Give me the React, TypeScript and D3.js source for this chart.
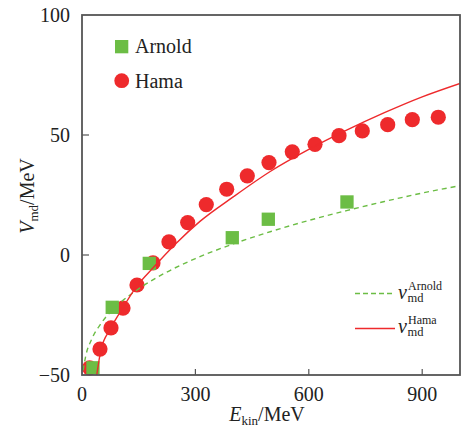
import React from "react";
import * as d3 from "d3";

const hamaE = [20, 47.6, 76.7, 108.5, 145.5, 187.8, 230, 279.6, 328.8, 382.8, 437.3, 494.7, 556.3, 616.4, 679.9, 741.5, 808.7, 873.8, 942.6];
const hamaV = [-47, -39.2, -30.4, -22.1, -12.5, -3.3, 5.5, 13.5, 21.0, 27.4, 33.0, 38.5, 43.0, 46.1, 49.7, 51.7, 54.3, 56.4, 57.4];

const arnoldE = [29, 80, 178, 397.6, 492.9, 701];
const arnoldV = [-47, -21.8, -3.5, 7.2, 14.9, 22.1];

const hamaCurveE = [39, 50, 75, 110, 145, 190, 250, 312, 400, 500, 600, 700, 800, 900, 1000];
const hamaCurveV = [-50, -39.6, -30.8, -21.5, -13, -5, 5, 14, 24.2, 35, 44, 52, 59.3, 65.9, 71.5];

const arnoldCurveE = [3, 10, 25, 50, 100, 150, 200, 300, 400, 500, 600, 700, 800, 900, 1000];
const arnoldCurveV = [-48.1, -42.0, -35.3, -28.6, -20.1, -14.1, -9.2, -1.5, 4.6, 9.8, 14.4, 18.5, 22.3, 25.8, 28.9];

const xTicks = [0, 300, 600, 900];
const yTicks = [-50, 0, 50, 100];

const RED = "#ee2a2c";
const GREEN = "#6cbd45";
const AXIS = "#555555";
const FONT = "Liberation Serif, DejaVu Serif, serif";

export default function App() {
  const x = d3.scaleLinear().domain([0, 1000]).range([82, 460]);
  const y = d3.scaleLinear().domain([-50, 100]).range([375, 15]);

  const line = d3
    .line<[number, number]>()
    .x((d) => x(d[0]))
    .y((d) => y(d[1]))
    .curve(d3.curveMonotoneX);

  const hamaPath = line(hamaCurveE.map((e, i) => [e, hamaCurveV[i]]) as [number, number][]) || "";
  const arnoldPath = line(arnoldCurveE.map((e, i) => [e, arnoldCurveV[i]]) as [number, number][]) || "";

  const sq = 13.3;
  const r = 7.6;
  const ts = { fontFamily: FONT };

  return (
    <svg
      width={462}
      height={430}
      style={{ position: "absolute", left: 0, top: 0, background: "#fff", fontFamily: FONT }}
    >
      <defs>
        <clipPath id="plotclip">
          <rect x={82} y={15} width={378} height={360} />
        </clipPath>
      </defs>

      {/* markers */}
      <g>
        {hamaE.map((e, i) => (
          <circle key={"h" + i} cx={x(e)} cy={y(hamaV[i])} r={r} fill={RED} />
        ))}
        {arnoldE.map((e, i) => (
          <rect
            key={"a" + i}
            x={x(e) - sq / 2}
            y={y(arnoldV[i]) - sq / 2}
            width={sq}
            height={sq}
            fill={GREEN}
          />
        ))}
      </g>

      {/* curves */}
      <g clipPath="url(#plotclip)">
        <path d={arnoldPath} fill="none" stroke={GREEN} strokeWidth={1.4} strokeDasharray="5,4" />
        <path d={hamaPath} fill="none" stroke={RED} strokeWidth={1.4} />
      </g>

      {/* frame */}
      <rect x={82} y={15} width={378} height={360} fill="none" stroke={AXIS} strokeWidth={1.8} />

      {/* ticks */}
      {xTicks.map((t) => (
        <g key={"xt" + t}>
          {t > 0 && <line x1={x(t)} x2={x(t)} y1={375} y2={369} stroke={AXIS} strokeWidth={1.2} />}
          <text x={x(t)} y={401} textAnchor="middle" fontSize={20} fill="#222" style={ts}>
            {t}
          </text>
        </g>
      ))}
      {yTicks.map((t) => (
        <g key={"yt" + t}>
          {t > -50 && t < 100 && <line x1={82} x2={89} y1={y(t)} y2={y(t)} stroke={AXIS} strokeWidth={1.2} />}
          <text x={70} y={y(t) + 7} textAnchor="end" fontSize={20} fill="#222" style={ts}>
            {t < 0 ? "\u2212" + Math.abs(t) : t}
          </text>
        </g>
      ))}

      {/* axis labels */}
      <text x={267} y={421} textAnchor="middle" fontSize={20} fill="#222" style={ts}>
        <tspan fontStyle="italic">E</tspan>
        <tspan fontSize={13} dy={4}>kin</tspan>
        <tspan dy={-4}>/MeV</tspan>
      </text>
      <text transform="translate(34,196) rotate(-90)" textAnchor="middle" fontSize={20} fill="#222" style={ts}>
        <tspan fontStyle="italic">V</tspan>
        <tspan fontSize={13} dy={4}>md</tspan>
        <tspan dy={-4}>/MeV</tspan>
      </text>

      {/* marker legend */}
      <rect x={115} y={40} width={sq} height={sq} fill={GREEN} />
      <text x={135} y={53} fontSize={20} fill="#222" style={ts}>Arnold</text>
      <circle cx={121.7} cy={80.7} r={7.4} fill={RED} />
      <text x={135} y={87.5} fontSize={20} fill="#222" style={ts}>Hama</text>

      {/* line legend */}
      <line x1={355} x2={395} y1={293.5} y2={293.5} stroke={GREEN} strokeWidth={1.4} strokeDasharray="5,3" />
      <text x={398} y={298.5} fontSize={20} fill="#222" style={ts}>
        <tspan fontStyle="italic">v</tspan>
        <tspan x={408} dy={-9} fontSize={12}>Arnold</tspan>
        <tspan x={407.5} dy={12.5} fontSize={12.5}>md</tspan>
      </text>

      <line x1={355} x2={395} y1={328.5} y2={328.5} stroke={RED} strokeWidth={1.4} />
      <text x={398} y={333} fontSize={20} fill="#222" style={ts}>
        <tspan fontStyle="italic">v</tspan>
        <tspan x={408} dy={-9} fontSize={12}>Hama</tspan>
        <tspan x={407.5} dy={12} fontSize={12.5}>md</tspan>
      </text>
    </svg>
  );
}
